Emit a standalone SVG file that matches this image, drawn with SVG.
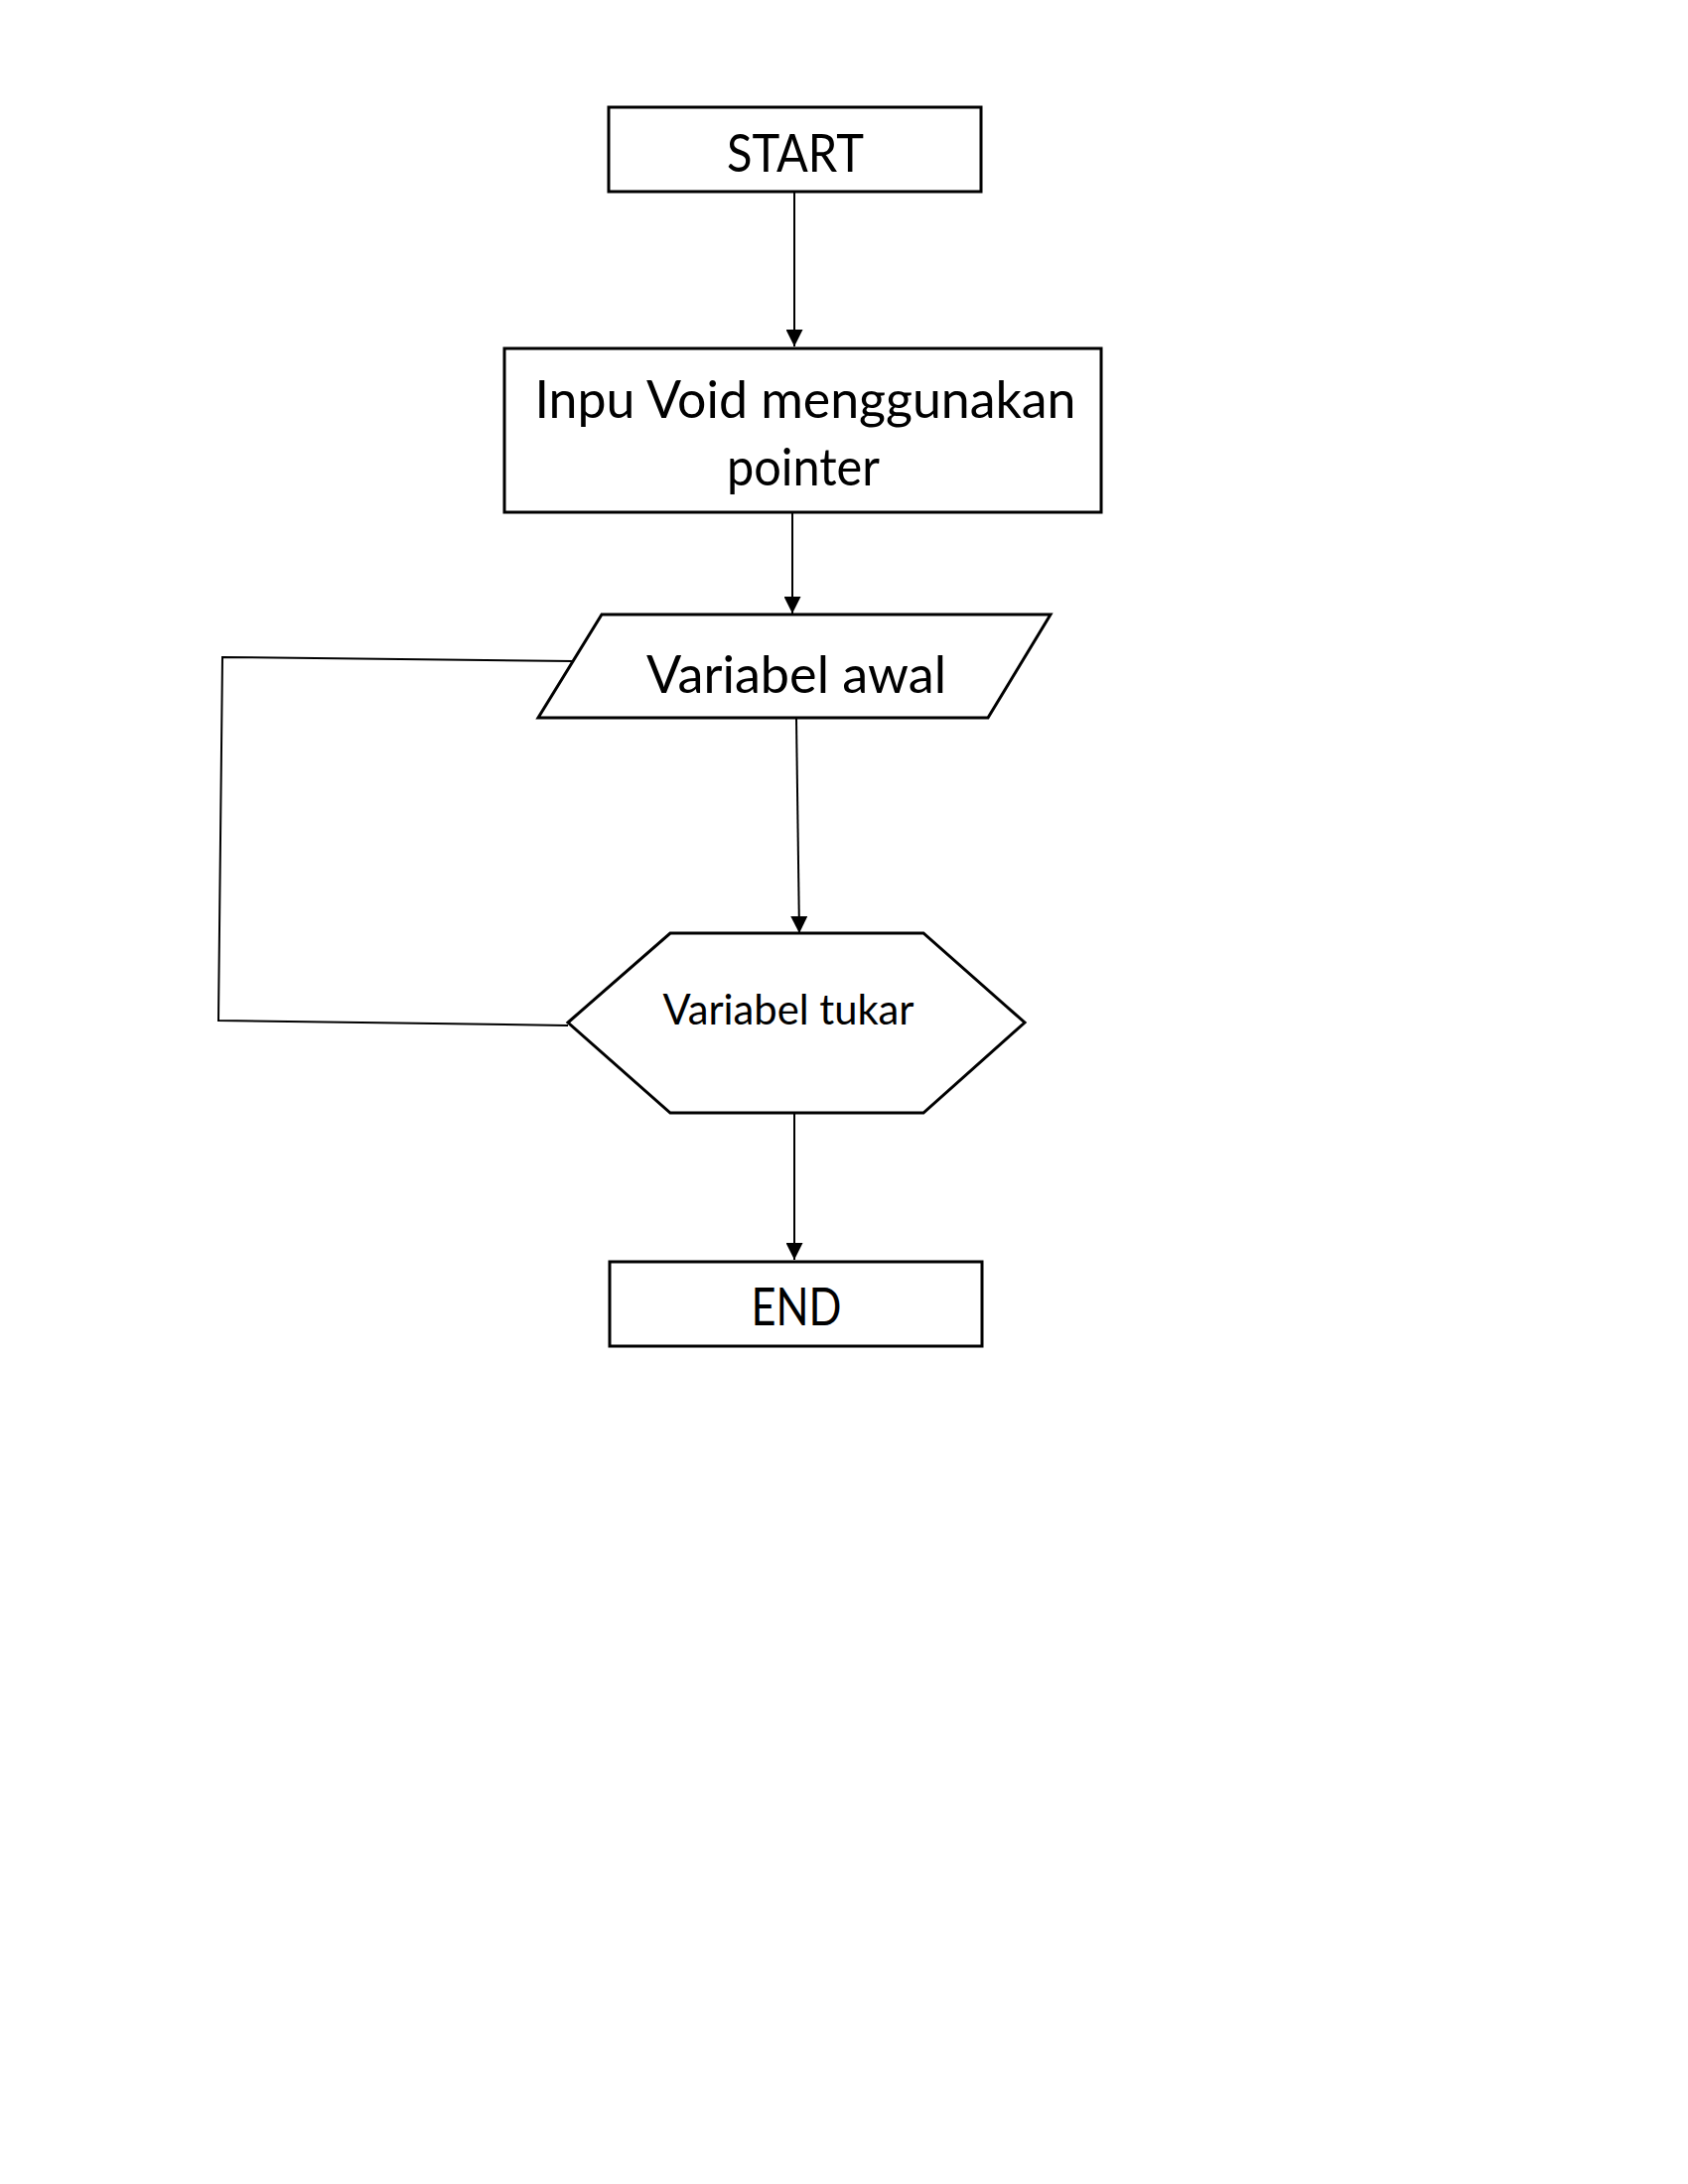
<svg xmlns="http://www.w3.org/2000/svg" width="1700" height="2200" viewBox="0 0 1700 2200">
<defs>
<marker id="arr" viewBox="0 0 10 10" refX="10" refY="5" markerWidth="17" markerHeight="17" markerUnits="userSpaceOnUse" orient="auto">
<path d="M0,0 L10,5 L0,10 Z" fill="#000"/>
</marker>
<style>
.shape{fill:#fff;stroke:#000;stroke-width:3}
.lbl{font-family:Lato,"Open Sans","Liberation Sans",sans-serif;fill:#000;text-anchor:middle}
.big{font-size:52px}
.small{font-size:42px}
.conn{fill:none;stroke:#000;stroke-width:2}
</style>
</defs>
<rect width="1700" height="2200" fill="#fff"/>
<g id="connectors">
<line class="conn" x1="800" y1="194" x2="800" y2="349" marker-end="url(#arr)"/>
<line class="conn" x1="798" y1="517" x2="798" y2="618" marker-end="url(#arr)"/>
<line class="conn" x1="802" y1="724" x2="805" y2="940" marker-end="url(#arr)"/>
<line class="conn" x1="800" y1="1121" x2="800" y2="1269" marker-end="url(#arr)"/>
<polyline class="conn" points="577,666 224,662 220,1028 572,1033"/>
</g>
<g id="start">
<rect class="shape" x="613" y="108" width="375" height="85"/>
<text class="lbl big" x="801" y="173" textLength="138" lengthAdjust="spacingAndGlyphs">START</text>
</g>
<g id="input">
<rect class="shape" x="508" y="351" width="601" height="165"/>
<text class="lbl big" x="811" y="421" textLength="545" lengthAdjust="spacingAndGlyphs">Inpu Void menggunakan</text>
<text class="lbl big" x="809" y="489" textLength="154" lengthAdjust="spacingAndGlyphs">pointer</text>
</g>
<g id="variabel-awal">
<polygon class="shape" points="606,619 1058,619 995,723 542,723"/>
<text class="lbl big" x="802" y="698" textLength="302" lengthAdjust="spacingAndGlyphs">Variabel awal</text>
</g>
<g id="variabel-tukar">
<polygon class="shape" points="572,1030 675,940 930,940 1032,1030 930,1121 675,1121"/>
<text class="lbl small" x="794" y="1032" textLength="253" lengthAdjust="spacingAndGlyphs">Variabel tukar</text>
</g>
<g id="end">
<rect class="shape" x="614" y="1271" width="375" height="85"/>
<text class="lbl big" x="802" y="1335" textLength="91" lengthAdjust="spacingAndGlyphs">END</text>
</g>
</svg>
